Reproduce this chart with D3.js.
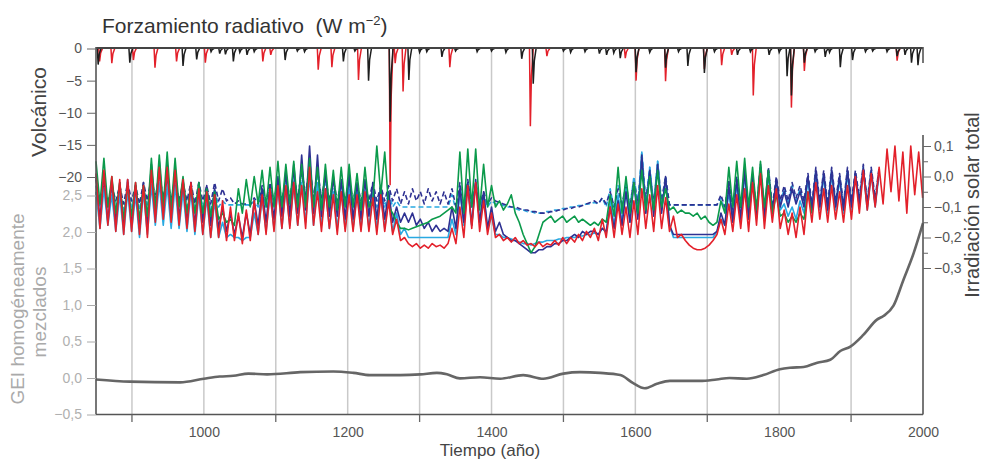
<!DOCTYPE html>
<html><head><meta charset="utf-8">
<script src="https://cdn.jsdelivr.net/npm/d3@7"></script>
<style>body{margin:0;background:#fff}svg{display:block}text{font-family:"Liberation Sans",Arial,sans-serif}</style>
</head><body><svg id="c" width="983" height="460"></svg>
<script>
// ---------- DATA ----------
// Volcanic forcing (W m-2): [year, value]
const volcRed = [[855,-2.0],[872,-2.3],[902,-1.8],[932,-3.0],[962,-2.0],[1002,-2.2],[1082,-2.0],[1093,-1.0],[1159,-3.3],[1178,-2.9],[1215,-4.9],[1259,-21.3],[1266,-2.3],[1277,-6.7],[1342,-2.9],[1454,-12.1],[1477,-1.2],[1586,-1.5],[1601,-5.0],[1642,-5.1],[1696,-3.2],[1720,-2.6],[1734,-1.0],[1764,-7.3],[1817,-9.2],[1835,-3.5],[1964,-1.9]];
const volcBlack = [[853,-2.5],[897,-2.2],[971,-2.7],[990,-1.7],[1010,-0.5],[1022,-0.8],[1030,-0.9],[1041,-2.0],[1050,-0.6],[1060,-1.0],[1070,-0.5],[1113,-1.8],[1130,-0.4],[1140,-0.5],[1194,-2.0],[1210,-0.4],[1229,-5.0],[1259,-11.4],[1285,-4.9],[1300,-0.6],[1310,-0.5],[1331,-1.3],[1350,-0.4],[1380,-0.5],[1400,-0.4],[1420,-0.6],[1442,-1.6],[1458,-5.5],[1500,-0.4],[1510,-0.6],[1530,-0.5],[1550,-0.8],[1560,-1.0],[1570,-0.7],[1579,-1.5],[1601,-3.7],[1620,-0.6],[1642,-3.0],[1660,-0.5],[1673,-2.7],[1696,-3.8],[1710,-0.5],[1742,-1.0],[1760,-0.5],[1786,-1.0],[1800,-0.6],[1811,-4.3],[1817,-7.3],[1835,-2.2],[1850,-0.5],[1864,-1.3],[1870,-0.6],[1885,-2.9],[1902,-1.8],[1920,-0.5],[1930,-0.4],[1950,-0.5],[1964,-1.2],[1975,-1.0],[1984,-2.2],[1993,-2.6]];

// Well-mixed GHG forcing (W m-2)
const ghgYears  = [850,897,967,1000,1022,1041,1062,1088,1134,1180,1208,1231,1273,1301,1324,1338,1356,1384,1412,1444,1472,1500,1523,1551,1579,1597,1613,1630,1648,1690,1713,1731,1755,1778,1801,1815,1834,1853,1871,1885,1899,1917,1936,1945,1959,1973,1987,2000];
const ghgValues = [-0.02,-0.05,-0.06,-0.01,0.02,0.03,0.06,0.05,0.08,0.09,0.07,0.04,0.04,0.05,0.07,0.05,-0.005,0.01,-0.01,0.04,-0.01,0.06,0.08,0.07,0.04,-0.07,-0.14,-0.08,-0.04,-0.04,-0.02,0.0,-0.01,0.04,0.12,0.14,0.15,0.21,0.25,0.37,0.43,0.59,0.80,0.85,0.99,1.35,1.71,2.12];

// Total solar irradiance forcing (W m-2), sampled every 5.5 years from 850
const solarStart = 850, solarStep = 5.5;
const solarRed = [
0.01,-0.17,0.02,-0.16,0.0,-0.18,-0.01,-0.19,-0.01,-0.18,
-0.02,-0.19,-0.03,-0.2,0.02,-0.15,0.03,-0.14,0.03,-0.15,
0.02,-0.16,-0.01,-0.17,-0.02,-0.18,-0.04,-0.19,-0.05,-0.2,
-0.06,-0.2,-0.08,-0.21,-0.1,-0.21,-0.12,-0.22,-0.11,-0.21,
-0.08,-0.19,-0.06,-0.19,-0.04,-0.18,-0.03,-0.17,-0.03,-0.17,
-0.02,-0.16,-0.03,-0.17,0.03,-0.16,-0.05,-0.18,-0.04,-0.17,
-0.06,-0.19,-0.05,-0.18,-0.06,-0.18,-0.06,-0.18,-0.05,-0.18,
-0.07,-0.19,-0.06,-0.18,-0.08,-0.19,-0.14,-0.21,-0.2,-0.22,
-0.23,-0.22,-0.235,-0.225,-0.235,-0.22,-0.23,-0.225,-0.235,-0.22,
-0.17,-0.22,-0.1,-0.2,-0.03,-0.17,-0.02,-0.18,-0.08,-0.19,
-0.12,-0.2,-0.19,-0.21,-0.2,-0.215,-0.2,-0.22,-0.21,-0.225,
-0.22,-0.23,-0.215,-0.23,-0.22,-0.225,-0.21,-0.225,-0.2,-0.22,
-0.2,-0.215,-0.19,-0.21,-0.18,-0.2,-0.17,-0.21,-0.14,-0.2,
-0.1,-0.2,-0.09,-0.19,-0.1,-0.2,-0.08,-0.19,-0.04,-0.17,
-0.06,-0.18,-0.03,-0.17,-0.07,-0.18,-0.13,-0.2,-0.19,-0.21,
-0.225,-0.235,-0.24,-0.24,-0.235,-0.225,-0.21,-0.19,-0.14,-0.19,
-0.09,-0.18,-0.06,-0.17,-0.04,-0.18,-0.02,-0.16,0.01,-0.17,
-0.03,-0.15,-0.04,-0.17,-0.11,-0.19,-0.12,-0.2,-0.1,-0.19,
-0.05,-0.15,-0.02,-0.14,-0.04,-0.15,-0.03,-0.14,-0.05,-0.15,
-0.03,-0.14,0.0,-0.12,0.02,-0.11,0.01,-0.1,0.03,-0.09,
0.09,-0.05,0.1,-0.08,0.08,-0.12,0.1,-0.06,0.08,-0.07];
const solarNavy = [
0.0,-0.14,0.01,-0.15,-0.01,-0.15,-0.02,-0.16,-0.01,-0.15,
-0.03,-0.17,-0.02,-0.16,0.04,-0.13,0.05,-0.12,0.04,-0.13,
0.03,-0.14,-0.01,-0.15,-0.02,-0.16,-0.02,-0.15,-0.03,-0.16,
-0.04,-0.17,-0.1,-0.18,-0.12,-0.19,-0.13,-0.2,-0.12,-0.19,
-0.08,-0.16,-0.04,-0.15,-0.03,-0.14,0.0,-0.13,0.02,-0.13,
0.04,-0.12,0.07,-0.11,0.1,-0.12,0.07,-0.13,0.02,-0.13,
0.0,-0.13,-0.01,-0.14,0.01,-0.14,-0.02,-0.14,-0.01,-0.13,
-0.02,-0.14,-0.03,-0.14,-0.05,-0.15,-0.1,-0.15,-0.12,-0.15,
-0.12,-0.16,-0.14,-0.17,-0.15,-0.18,-0.16,-0.18,-0.17,-0.18,
-0.1,-0.17,-0.04,-0.15,-0.02,-0.16,-0.01,-0.15,-0.05,-0.17,
-0.1,-0.18,-0.15,-0.19,-0.2,-0.21,-0.21,-0.22,-0.23,-0.24,
-0.25,-0.25,-0.24,-0.24,-0.23,-0.23,-0.22,-0.22,-0.21,-0.21,
-0.2,-0.19,-0.2,-0.18,-0.19,-0.18,-0.18,-0.19,-0.17,-0.18,
-0.1,-0.17,-0.08,-0.16,-0.05,-0.15,-0.02,-0.14,0.07,-0.12,
0.02,-0.13,0.04,-0.12,0.0,-0.16,-0.19,-0.19,-0.19,-0.19,
-0.19,-0.19,-0.19,-0.19,-0.19,-0.19,-0.19,-0.18,-0.12,-0.16,
-0.03,-0.15,-0.01,-0.14,0.02,-0.14,0.0,-0.13,0.03,-0.14,
0.02,-0.12,-0.01,-0.1,-0.05,-0.1,-0.04,-0.09,-0.05,-0.1,
0.0,-0.11,0.02,-0.1,0.01,-0.11,0.02,-0.1,0.0,-0.11,
0.02,-0.1,0.01,-0.09,0.03,-0.1,0.02,-0.09,0.02];
const solarNavyDash = [
-0.01,-0.08,-0.02,-0.09,-0.03,-0.08,-0.03,-0.09,-0.02,-0.08,
-0.03,-0.09,-0.02,-0.08,0.0,-0.07,0.01,-0.07,0.0,-0.08,
-0.01,-0.08,-0.02,-0.08,-0.02,-0.09,-0.02,-0.08,-0.03,-0.09,
-0.02,-0.08,-0.04,-0.08,-0.07,-0.09,-0.08,-0.09,-0.09,-0.095,
-0.07,-0.09,-0.03,-0.08,-0.02,-0.08,-0.01,-0.08,0.0,-0.07,
0.01,-0.07,0.02,-0.06,0.04,-0.07,0.02,-0.07,0.0,-0.08,
-0.01,-0.08,-0.02,-0.08,-0.01,-0.08,-0.02,-0.08,-0.02,-0.08,
-0.02,-0.08,-0.03,-0.08,-0.03,-0.08,-0.04,-0.09,-0.05,-0.09,
-0.04,-0.08,-0.05,-0.09,-0.04,-0.08,-0.05,-0.09,-0.05,-0.09,
-0.04,-0.1,-0.02,-0.1,-0.01,-0.1,-0.02,-0.09,-0.05,-0.09,
-0.07,-0.08,-0.085,-0.09,-0.095,-0.1,-0.1,-0.105,-0.11,-0.11,
-0.115,-0.115,-0.12,-0.12,-0.12,-0.115,-0.115,-0.11,-0.11,-0.105,
-0.105,-0.1,-0.1,-0.095,-0.09,-0.085,-0.08,-0.09,-0.07,-0.09,
-0.05,-0.1,-0.04,-0.09,-0.03,-0.1,-0.01,-0.09,0.06,-0.08,
0.02,-0.09,0.04,-0.08,0.0,-0.093,-0.093,-0.093,-0.093,-0.093,
-0.093,-0.093,-0.093,-0.093,-0.093,-0.093,-0.093,-0.093,-0.06,-0.1,
-0.01,-0.12,0.0,-0.12,0.03,-0.12,0.01,-0.11,0.04,-0.12,
0.03,-0.1,0.0,-0.08,-0.03,-0.08,-0.02,-0.07,-0.03,-0.08,
0.01,-0.09,0.03,-0.08,0.02,-0.09,0.03,-0.08,0.01,-0.09,
0.03,-0.08,0.02,-0.07,0.04,-0.08,0.03,-0.07,0.03];
const solarCyan = [
-0.05,-0.17,-0.04,-0.16,-0.06,-0.18,-0.06,-0.19,-0.05,-0.18,
-0.06,-0.2,-0.05,-0.19,-0.03,-0.16,-0.02,-0.16,-0.03,-0.17,
-0.03,-0.17,-0.05,-0.18,-0.05,-0.19,-0.06,-0.19,-0.07,-0.2,
-0.08,-0.2,-0.15,-0.2,-0.19,-0.2,-0.2,-0.21,-0.2,-0.2,
-0.12,-0.19,-0.07,-0.18,-0.06,-0.17,-0.04,-0.17,-0.04,-0.16,
-0.03,-0.16,-0.02,-0.15,0.0,-0.16,-0.02,-0.16,-0.04,-0.17,
-0.05,-0.17,-0.05,-0.17,-0.04,-0.17,-0.05,-0.17,-0.05,-0.17,
-0.05,-0.17,-0.06,-0.17,-0.07,-0.18,-0.12,-0.19,-0.17,-0.2,
-0.2,-0.2,-0.2,-0.2,-0.2,-0.2,-0.2,-0.2,-0.2,-0.2,
-0.14,-0.19,-0.05,-0.16,-0.03,-0.16,-0.02,-0.15,-0.06,-0.17,
-0.13,-0.19,-0.19,-0.2,-0.2,-0.205,-0.21,-0.215,-0.22,-0.22,
-0.225,-0.22,-0.215,-0.215,-0.21,-0.21,-0.21,-0.205,-0.205,-0.2,
-0.2,-0.2,-0.195,-0.195,-0.19,-0.19,-0.185,-0.19,-0.17,-0.185,
-0.08,-0.16,-0.06,-0.15,-0.04,-0.15,-0.01,-0.13,0.08,-0.12,
0.03,-0.12,0.05,-0.11,-0.01,-0.16,-0.2,-0.2,-0.2,-0.2,
-0.2,-0.2,-0.2,-0.2,-0.2,-0.2,-0.2,-0.18,-0.14,-0.16,
-0.05,-0.15,-0.02,-0.15,0.01,-0.14,-0.01,-0.14,0.02,-0.14,
0.01,-0.13,-0.03,-0.11,-0.09,-0.13,-0.1,-0.14,-0.08,-0.12,
-0.01,-0.12,0.01,-0.11,0.0,-0.12,0.01,-0.11,-0.01,-0.12,
0.01,-0.11,0.0,-0.1,0.02,-0.11,0.01,-0.1,0.01];
const solarCyanDash = [
-0.03,-0.1,-0.04,-0.1,-0.04,-0.1,-0.05,-0.11,-0.04,-0.1,
-0.05,-0.11,-0.04,-0.1,-0.02,-0.09,-0.01,-0.09,-0.02,-0.1,
-0.02,-0.1,-0.03,-0.1,-0.03,-0.11,-0.04,-0.1,-0.04,-0.11,
-0.04,-0.1,-0.08,-0.093,-0.093,-0.093,-0.093,-0.093,-0.093,-0.093,
-0.08,-0.1,-0.04,-0.1,-0.03,-0.09,-0.02,-0.09,-0.01,-0.09,
0.0,-0.09,0.01,-0.08,0.02,-0.09,0.01,-0.09,-0.01,-0.1,
-0.02,-0.1,-0.03,-0.1,-0.02,-0.1,-0.03,-0.1,-0.03,-0.1,
-0.03,-0.1,-0.04,-0.1,-0.05,-0.1,-0.08,-0.1,-0.1,-0.1,
-0.1,-0.1,-0.1,-0.1,-0.1,-0.1,-0.1,-0.1,-0.1,-0.1,
-0.06,-0.11,-0.03,-0.1,-0.02,-0.1,-0.03,-0.1,-0.06,-0.1,
-0.08,-0.09,-0.09,-0.095,-0.1,-0.1,-0.105,-0.11,-0.11,-0.115,
-0.115,-0.12,-0.12,-0.12,-0.115,-0.115,-0.11,-0.11,-0.105,-0.105,
-0.1,-0.1,-0.095,-0.095,-0.09,-0.09,-0.085,-0.09,-0.07,-0.1,
-0.04,-0.11,-0.03,-0.1,-0.02,-0.1,0.0,-0.09,0.08,-0.08,
0.03,-0.09,0.05,-0.09,0.0,-0.093,-0.093,-0.093,-0.093,-0.093,
-0.093,-0.093,-0.093,-0.093,-0.093,-0.093,-0.093,-0.093,-0.07,-0.11,
-0.02,-0.13,0.0,-0.12,0.02,-0.12,0.0,-0.12,0.03,-0.12,
0.02,-0.11,-0.01,-0.09,-0.04,-0.09,-0.03,-0.08,-0.04,-0.09,
0.0,-0.1,0.02,-0.09,0.01,-0.1,0.02,-0.09,0.0,-0.1,
0.02,-0.09,0.01,-0.08,0.03,-0.09,0.02,-0.08,0.02];
const solarGreen = [
0.05,-0.09,0.06,-0.1,0.0,-0.12,-0.02,-0.14,-0.03,-0.13,
-0.02,-0.14,-0.03,-0.13,0.06,-0.11,0.07,-0.1,0.08,-0.11,
0.06,-0.1,0.0,-0.12,-0.03,-0.12,-0.02,-0.12,-0.04,-0.13,
-0.05,-0.14,-0.12,-0.15,-0.14,-0.16,-0.04,-0.12,-0.01,-0.1,
0.0,-0.09,0.02,-0.1,0.03,-0.1,0.05,-0.1,0.04,-0.09,
0.05,-0.1,0.04,-0.1,0.06,-0.1,0.03,-0.11,0.04,-0.1,
0.02,-0.11,0.03,-0.1,0.04,-0.1,0.01,-0.11,0.03,-0.1,
-0.08,0.1,-0.06,0.08,-0.1,-0.12,-0.15,-0.17,-0.17,-0.175,
-0.17,-0.165,-0.16,-0.155,-0.15,-0.14,-0.135,-0.13,-0.12,-0.11,
-0.1,-0.12,0.08,-0.12,0.09,-0.1,0.09,-0.11,0.04,-0.1,
-0.03,-0.1,-0.08,-0.11,-0.09,-0.06,-0.12,-0.15,-0.19,-0.22,
-0.25,-0.23,-0.19,-0.15,-0.14,-0.13,-0.15,-0.14,-0.13,-0.15,
-0.14,-0.13,-0.15,-0.14,-0.15,-0.16,-0.15,-0.16,-0.14,-0.15,
-0.06,-0.13,0.03,-0.12,0.0,-0.12,-0.02,-0.12,0.02,-0.11,
0.0,-0.11,0.02,-0.1,-0.04,-0.11,-0.1,-0.12,-0.11,-0.12,
-0.12,-0.13,-0.12,-0.14,-0.13,-0.15,-0.16,-0.15,-0.08,-0.12,
0.03,-0.1,0.05,-0.1,0.06,-0.1,0.03,-0.11,0.05,-0.1,
0.02,-0.12,-0.06,-0.13,-0.12,-0.15,-0.13,-0.15,-0.12,-0.14,
-0.05,-0.12];

// Tick labels
const xLabelYears = [1000,1200,1400,1600,1800,2000];
const xMinorYears = [900,1100,1300,1500,1700,1900];
const gridYears = [900,1000,1100,1200,1300,1400,1500,1600,1700,1800,1900];
const volcTicks = [0,-5,-10,-15,-20];
const ghgTicks = [-0.5,0,0.5,1,1.5,2,2.5];
const solarTicks = [0.1,0,-0.1,-0.2,-0.3];
const solarMinorTicks = [0.05,-0.05,-0.15,-0.25];

// ---------- DRAW ----------
const svg = d3.select("#c");
const x = d3.scaleLinear().domain([850,2000]).range([96,923]);
const yV = d3.scaleLinear().domain([0,-20]).range([48.5,177]);
const yG = d3.scaleLinear().domain([-0.5,2.5]).range([414.5,195.5]);
const yS = d3.scaleLinear().domain([-0.3,0.1]).range([268,146]);
const comma = d => d3.format(".1f")(d).replace(".", ",");

// grid
svg.append("g").selectAll("line").data(gridYears).join("line")
  .attr("x1", d=>x(d)).attr("x2", d=>x(d)).attr("y1", 47).attr("y2", 414.5)
  .attr("stroke", "#c9c9c9").attr("stroke-width", 1.5);

// GHG
svg.append("path").datum(ghgYears.map((d,i)=>[d, ghgValues[i]]))
  .attr("fill","none").attr("stroke","#666").attr("stroke-width",2.6)
  .attr("d", d3.line().x(d=>x(d[0])).y(d=>yG(d[1])).curve(d3.curveMonotoneX));

// Solar
const sLine = d3.line().defined(d=>d!=null).x((d,i)=>x(solarStart+i*solarStep)).y(d=>yS(d));
const solarSeries = [
  {v: solarCyanDash, c:"#29a9e1", dash:"5,3"},
  {v: solarNavyDash, c:"#2e3192", dash:"5,3"},
  {v: solarCyan, c:"#29a9e1"},
  {v: solarNavy, c:"#2e3192"},
  {v: solarGreen, c:"#0b9a4b"},
  {v: solarRed, c:"#e3202a"}
];
solarSeries.forEach(s=>{
  svg.append("path").datum(s.v).attr("fill","none").attr("stroke", s.c)
    .attr("stroke-width",1.6).attr("stroke-linejoin","round")
    .attr("stroke-dasharray", s.dash || null).attr("d", sLine);
});

// Volcanic
const spike = d3.line().x(d=>x(d[0])).y(d=>yV(d[1]));
function drawVolc(data, color){
  svg.append("g").selectAll("path").data(data).join("path")
    .attr("fill","none").attr("stroke",color).attr("stroke-width",1.5).attr("stroke-linejoin","miter")
    .attr("d", d=>spike([[d[0]-1.2,0],[d[0],d[1]],[d[0]+1.5,d[1]*0.35],[d[0]+4,0]]));
}
drawVolc(volcRed, "#e3202a");
drawVolc(volcBlack, "#1e1e1e");
svg.append("line").attr("x1",x(850)).attr("x2",x(2000)).attr("y1",yV(0)-0.5).attr("y2",yV(0)-0.5)
  .attr("stroke","#444").attr("stroke-width",2.2);

// Frame lines
const frame = svg.append("g").attr("stroke","#555").attr("stroke-width",1.6);
frame.append("line").attr("x1",96).attr("x2",96).attr("y1",47).attr("y2",414.5);
frame.append("line").attr("x1",96).attr("x2",923).attr("y1",414.5).attr("y2",414.5);
frame.append("line").attr("x1",923).attr("x2",923).attr("y1",47).attr("y2",63);
frame.append("line").attr("x1",923).attr("x2",923).attr("y1",135).attr("y2",414.5);

// Left volcanic axis
const aV = svg.append("g").attr("transform","translate(96,0)")
  .call(d3.axisLeft(yV).tickValues(volcTicks).tickSize(9).tickPadding(5));
aV.select(".domain").remove();
aV.selectAll("line").attr("stroke","#666");
aV.selectAll("text").attr("fill","#555").attr("font-size",14).attr("font-family","Liberation Sans, Arial, sans-serif");

// Left GHG axis
const aG = svg.append("g").attr("transform","translate(96,0)")
  .call(d3.axisLeft(yG).tickValues(ghgTicks).tickFormat(comma).tickSize(9).tickPadding(5));
aG.select(".domain").remove();
aG.selectAll("line").attr("stroke","#aaa");
aG.selectAll("text").attr("fill","#b0b0b0").attr("font-size",14).attr("font-family","Liberation Sans, Arial, sans-serif");

// Right solar axis
const aS = svg.append("g").attr("transform","translate(923,0)")
  .call(d3.axisRight(yS).tickValues(solarTicks).tickFormat(comma).tickSize(8).tickPadding(3));
aS.select(".domain").remove();
aS.selectAll("line").attr("stroke","#666");
aS.selectAll("text").attr("fill","#555").attr("font-size",14).attr("font-family","Liberation Sans, Arial, sans-serif");
const aS2 = svg.append("g").attr("transform","translate(923,0)")
  .call(d3.axisRight(yS).tickValues(solarMinorTicks).tickFormat("").tickSize(5));
aS2.select(".domain").remove();
aS2.selectAll("line").attr("stroke","#666");

// Bottom axis
const aX = svg.append("g").attr("transform","translate(0,414.5)")
  .call(d3.axisBottom(x).tickValues(xLabelYears).tickFormat(d3.format("d")).tickSize(0).tickPadding(13));
aX.select(".domain").remove();
aX.selectAll("text").attr("fill","#555").attr("font-size",14).attr("font-family","Liberation Sans, Arial, sans-serif");
svg.append("g").selectAll("line").data(xMinorYears).join("line")
  .attr("x1",d=>x(d)).attr("x2",d=>x(d)).attr("y1",414.5).attr("y2",422)
  .attr("stroke","#666").attr("stroke-width",1.3);

// Titles
const title = svg.append("text").attr("x",102).attr("y",33).attr("font-size",21).attr("fill","#333")
  .attr("xml:space","preserve");
title.append("tspan").text("Forzamiento radiativo  (W m");
title.append("tspan").attr("dy",-8).attr("font-size",13).text("−2");
title.append("tspan").attr("dy",8).text(")");

svg.append("text").attr("transform","translate(38,112) rotate(-90)").attr("text-anchor","middle")
  .attr("dominant-baseline","central").attr("font-size",21).attr("fill","#444").text("Volcánico");
svg.append("text").attr("transform","translate(17,309) rotate(-90)").attr("text-anchor","middle")
  .attr("dominant-baseline","central").attr("font-size",19).attr("fill","#aaa").text("GEI homogéneamente");
svg.append("text").attr("transform","translate(39,312) rotate(-90)").attr("text-anchor","middle")
  .attr("dominant-baseline","central").attr("font-size",19).attr("fill","#aaa").text("mezclados");
svg.append("text").attr("transform","translate(972,205) rotate(-90)").attr("text-anchor","middle")
  .attr("dominant-baseline","central").attr("font-size",20).attr("fill","#444").text("Irradiación solar total");
svg.append("text").attr("x",490).attr("y",456).attr("text-anchor","middle")
  .attr("font-size",17).attr("fill","#444").text("Tiempo (año)");
</script></body></html>
